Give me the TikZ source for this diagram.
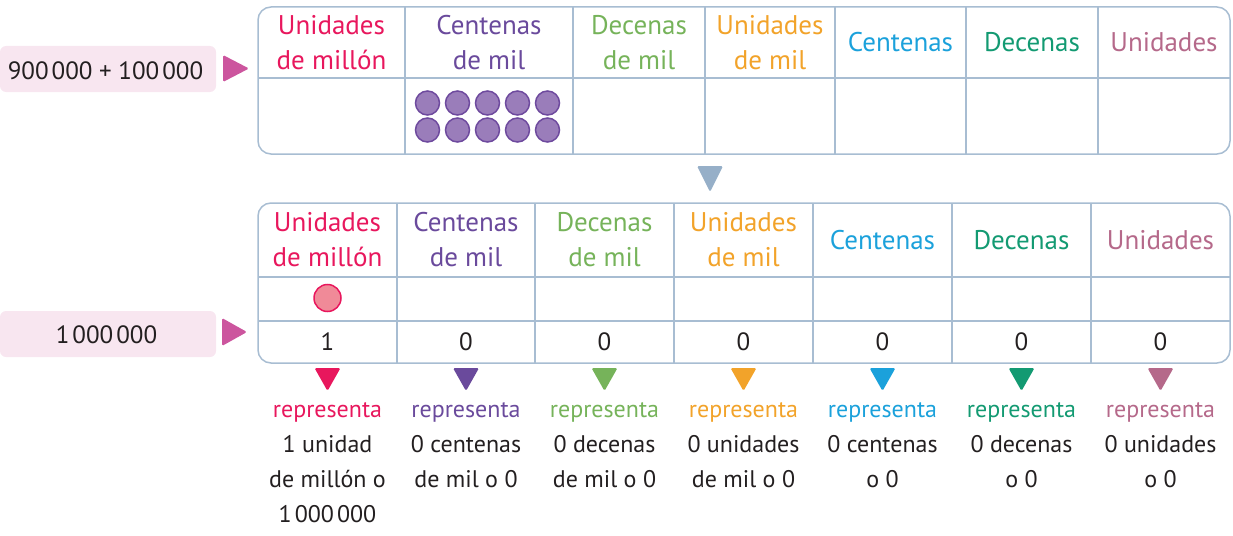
\documentclass[tikz,border=0pt]{standalone}
\usepackage{fontspec}
\setmainfont{PT Sans}
\definecolor{cUM}{HTML}{E8175D}
\definecolor{cCM}{HTML}{6A4A9C}
\definecolor{cDM}{HTML}{76B35A}
\definecolor{cUMi}{HTML}{F2A32A}
\definecolor{cC}{HTML}{1BA1DB}
\definecolor{cD}{HTML}{139A72}
\definecolor{cU}{HTML}{B5698A}
\definecolor{tblc}{HTML}{A8BDD2}
\definecolor{grayarrow}{HTML}{96AFC8}
\definecolor{labfill}{HTML}{F8E6F0}
\definecolor{labarrow}{HTML}{CC559E}
\definecolor{txt}{HTML}{231F20}
\definecolor{pfill}{HTML}{9A7DBA}
\definecolor{pdraw}{HTML}{6E4A9E}
\definecolor{rfill}{HTML}{F08A98}
\newcommand{\grp}{\kern3pt}
\tikzset{
  tbl/.style={draw=tblc, line width=1.5pt},
  head/.style={align=center, inner sep=0pt, anchor=base, font=\fontsize{27}{35}\selectfont},
  num/.style={inner sep=0pt, anchor=base, text=txt, font=\fontsize{25}{30}\selectfont},
  body/.style={align=center, inner sep=0pt, anchor=base, text=txt, font=\fontsize{24}{35}\selectfont},
  labbox/.style={fill=labfill, rounded corners=6pt},
  tri/.style={rounded corners=1.5pt},
  pdot/.style={circle, fill=pfill, draw=pdraw, line width=1.5pt, minimum size=24pt, inner sep=0pt},
  rdot/.style={circle, fill=rfill, draw=cUM, line width=1.5pt, minimum size=27pt, inner sep=0pt}
}
\begin{document}
\begin{tikzpicture}[x=1pt,y=-1pt]
\useasboundingbox (0,0) rectangle (1233,535);
% ---------- left labels ----------
\fill[labbox] (0,46) rectangle (216,92);
\node[num] (l1) at (105.5,79) {900\grp000 + 100\grp000};
\fill[labarrow, tri] (223,55) -- (249,68.5) -- (223,82) -- cycle;
\fill[labbox] (0,311) rectangle (216,357);
\node[num] (l2) at (106.5,343) {1\grp000\grp000};
\fill[labarrow, tri] (222,318) -- (247,332) -- (222,346) -- cycle;
% ---------- top table ----------
\draw[tbl] (258,78) -- (1230,78);
\foreach \x in {405,573,705,835,966,1098} \draw[tbl] (\x,7) -- (\x,154);
\draw[tbl, rounded corners=13pt] (258,7) rectangle (1230,154);
\node[head, text=cUM] (t1) at (331.5,70) {Unidades\\de millón};
\node[head, text=cCM] (t2) at (489,70) {Centenas\\de mil};
\node[head, text=cDM] (t3) at (639,70) {Decenas\\de mil};
\node[head, text=cUMi] (t4) at (770,70) {Unidades\\de mil};
\node[head, text=cC] (t5) at (900.5,52) {Centenas};
\node[head, text=cD] (t6) at (1032,52) {Decenas};
\node[head, text=cU] (t7) at (1164,52) {Unidades};
\foreach \i in {0,...,4} {
  \node[pdot] (pa\i) at (427.5+30*\i,103) {};
  \node[pdot] (pb\i) at (427.5+30*\i,130) {};
}
% ---------- middle arrow ----------
\fill[grayarrow, tri] (697,166) -- (723,166) -- (710,192) -- cycle;
% ---------- bottom table ----------
\draw[tbl] (258,277) -- (1230,277);
\draw[tbl] (258,321) -- (1230,321);
\foreach \x in {397,535,674,813,952,1091} \draw[tbl] (\x,203) -- (\x,363);
\draw[tbl, rounded corners=13pt] (258,203) rectangle (1230,363);
\node[head, text=cUM] (b1) at (327.5,266) {Unidades\\de millón};
\node[head, text=cCM] (b2) at (466,266) {Centenas\\de mil};
\node[head, text=cDM] (b3) at (604.5,266) {Decenas\\de mil};
\node[head, text=cUMi] (b4) at (743.5,266) {Unidades\\de mil};
\node[head, text=cC] (b5) at (882.5,249) {Centenas};
\node[head, text=cD] (b6) at (1021.5,249) {Decenas};
\node[head, text=cU] (b7) at (1160.5,249) {Unidades};
\node[rdot] (rd) at (327.5,298) {};
\node[num] (n1) at (327.5,350) {1};
\node[num] (n2) at (466,350) {0};
\node[num] (n3) at (604.5,350) {0};
\node[num] (n4) at (743.5,350) {0};
\node[num] (n5) at (882.5,350) {0};
\node[num] (n6) at (1021.5,350) {0};
\node[num] (n7) at (1160.5,350) {0};
% ---------- bottom descriptions ----------
\foreach \cx/\cc in {327.5/cUM,466/cCM,604.5/cDM,743.5/cUMi,882.5/cC,1021.5/cD,1160.5/cU}
  \fill[\cc, tri] (\cx-13,368) -- (\cx+13,368) -- (\cx,391) -- cycle;
\node[body] (d1) at (327.5,522) {\textcolor{cUM}{representa}\\1 unidad\\de millón o\\1\grp000\grp000};
\node[body] (d2) at (466,487) {\textcolor{cCM}{representa}\\0 centenas\\de mil o 0};
\node[body] (d3) at (604.5,487) {\textcolor{cDM}{representa}\\0 decenas\\de mil o 0};
\node[body] (d4) at (743.5,487) {\textcolor{cUMi}{representa}\\0 unidades\\de mil o 0};
\node[body] (d5) at (882.5,487) {\textcolor{cC}{representa}\\0 centenas\\o 0};
\node[body] (d6) at (1021.5,487) {\textcolor{cD}{representa}\\0 decenas\\o 0};
\node[body] (d7) at (1160.5,487) {\textcolor{cU}{representa}\\0 unidades\\o 0};
\end{tikzpicture}
\end{document}
